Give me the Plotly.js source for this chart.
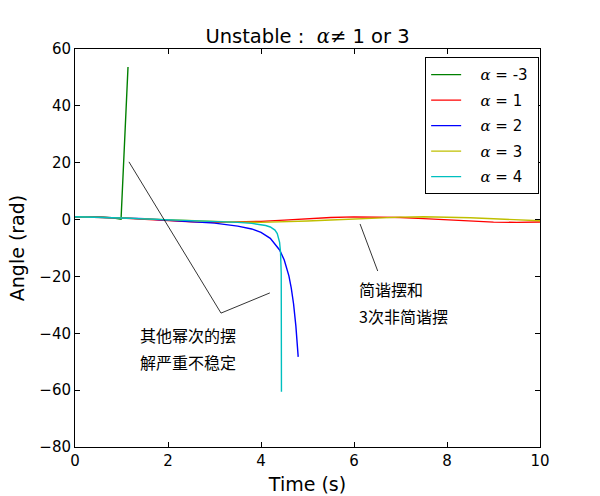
<!DOCTYPE html>
<html>
<head>
<meta charset="utf-8">
<script src="https://cdn.plot.ly/plotly-3.0.1.min.js"></script>
<style>html,body{margin:0;padding:0;background:#fff;}#chart{width:600px;height:496px;}</style>
</head>
<body>
<div id="chart"></div>
<script>
// alpha = -3
const tNeg3 = [0, 0.2, 0.4, 0.6, 0.8, 0.9, 0.95, 0.99, 1.14];
const yNeg3 = [1.0, 0.98, 0.92, 0.80, 0.60, 0.44, 0.31, 0.14, 53.7];
// alpha = 1
const t1 = [0,0.5,1,1.5,2,2.5,3,3.5,4,4.5,5,5.5,6,6.5,7,7.5,8,8.5,9,9.5,10];
const y1 = [1.0,0.88,0.54,0.07,-0.42,-0.80,-0.99,-0.94,-0.65,-0.21,0.28,0.71,0.96,0.98,0.75,0.35,-0.15,-0.60,-0.91,-1.0,-0.84];
// alpha = 2
const t2 = [0,0.5,1,1.5,2,2.5,3,3.5,3.8,4.0,4.2,4.4,4.5,4.6,4.65,4.7,4.75,4.8];
const y2 = [1.0,0.88,0.58,0.27,-0.24,-0.66,-1.25,-2.3,-3.3,-4.5,-6.6,-10.7,-14.2,-19.8,-24.0,-29.6,-37.5,-48.3];
// alpha = 3
const t3 = [0,0.5,1,1.5,2,2.5,3,3.5,4,4.5,5,5.5,6,6.5,7,7.5,8,8.5,9,9.5,10];
const y3 = [1.0,0.88,0.60,0.25,-0.10,-0.46,-0.77,-0.96,-0.97,-0.79,-0.48,-0.13,0.22,0.58,0.87,0.99,0.90,0.64,0.29,-0.06,-0.41];
// alpha = 4
const t4 = [0,0.5,1,1.5,2,2.5,3,3.5,3.8,4.0,4.1,4.2,4.3,4.35,4.38,4.40,4.42,4.43,4.435,4.44];
const y4 = [1.0,0.88,0.56,0.26,-0.01,-0.33,-0.64,-1.0,-1.35,-1.76,-2.1,-2.6,-3.7,-4.9,-6.3,-8.0,-11.5,-15.0,-19.0,-60.6];

const seriesLabels = ['-3', '1', '2', '3', '4'];
const seriesColors = ['#008000', '#ff0000', '#0000ff', '#bfbf00', '#00bfbf'];

// annotation pointer lines
const ptrLeftX = [1.16, 3.14, 4.19];
const ptrLeftY = [20.3, -32.9, -25.8];
const ptrRightX = [6.13, 6.51];
const ptrRightY = [-1.55, -18.1];

const noteLeft = ['其他幂次的摆', '解严重不稳定'];
const noteRight = ['简谐摆和', '3次非简谐摆'];

const xs = [tNeg3, t1, t2, t3, t4];
const ys = [yNeg3, y1, y2, y3, y4];

const alphaSpan = '<span style="font-family:\'DejaVu Serif\'"><i>α</i> = </span>';

const traces = xs.map((x, i) => ({
  x: x, y: ys[i], type: 'scatter', mode: 'lines',
  name: '&nbsp;&nbsp;&nbsp;' + alphaSpan + seriesLabels[i] + '&nbsp;',
  legendgroup: 'g' + i,
  line: {color: seriesColors[i], width: 1.4},
  hoverinfo: 'skip'
}));

traces.push({x: ptrLeftX, y: ptrLeftY, type: 'scatter', mode: 'lines', showlegend: false,
  line: {color: '#000', width: 0.8}, hoverinfo: 'skip'});
traces.push({x: ptrRightX, y: ptrRightY, type: 'scatter', mode: 'lines', showlegend: false,
  line: {color: '#000', width: 0.8}, hoverinfo: 'skip'});

const cjkFont = {family: '"Noto Sans CJK SC", sans-serif', size: 16, color: '#000'};
const annotations = [
  {x: 1.36, y: -40.5, text: noteLeft[0]},
  {x: 1.36, y: -50.1, text: noteLeft[1]},
  {x: 6.07, y: -24.4, text: noteRight[0]},
  {x: 6.07, y: -33.9, text: noteRight[1]}
].map(a => Object.assign(a, {xref: 'x', yref: 'y', xanchor: 'left', yanchor: 'middle',
  showarrow: false, font: cjkFont}));

const axisCommon = {
  showline: true, linecolor: '#000', linewidth: 1, mirror: 'ticks',
  ticks: 'inside', ticklen: 5, tickcolor: '#000', tickwidth: 1,
  showgrid: false, zeroline: false,
  tickfont: {family: 'DejaVu Sans', size: 15, color: '#000'}
};

const labelFont = {family: 'DejaVu Sans', size: 19, color: '#000'};

const layout = {
  width: 600, height: 496,
  margin: {l: 75, r: 60, t: 49, b: 49},
  paper_bgcolor: '#fff', plot_bgcolor: '#fff',
  font: {family: 'DejaVu Sans', color: '#000'},
  title: {text: 'Unstable :&nbsp;&nbsp;<span style="font-family:\'DejaVu Serif\'"><i>α</i>≠</span> 1 or 3',
    font: {family: 'DejaVu Sans', size: 19.5, color: '#000'},
    x: 0.5, xref: 'paper', y: 1 - 36/496, yanchor: 'middle'},
  xaxis: Object.assign({}, axisCommon, {range: [0, 10], dtick: 2, tick0: 0,
    title: {text: 'Time (s)', font: labelFont, standoff: 8}}),
  yaxis: Object.assign({}, axisCommon, {range: [-80, 60], dtick: 20, tick0: 0,
    title: {text: 'Angle (rad)', font: labelFont, standoff: 9}}),
  showlegend: true,
  legend: {x: 0.753, y: 0.979, xanchor: 'left', yanchor: 'top',
    bgcolor: '#fff', bordercolor: '#000', borderwidth: 1,
    tracegroupgap: 3,
    font: {family: 'DejaVu Sans', size: 15, color: '#000'}},
  annotations: annotations
};

Plotly.newPlot('chart', traces, layout, {displayModeBar: false, staticPlot: true});
</script>
</body>
</html>
